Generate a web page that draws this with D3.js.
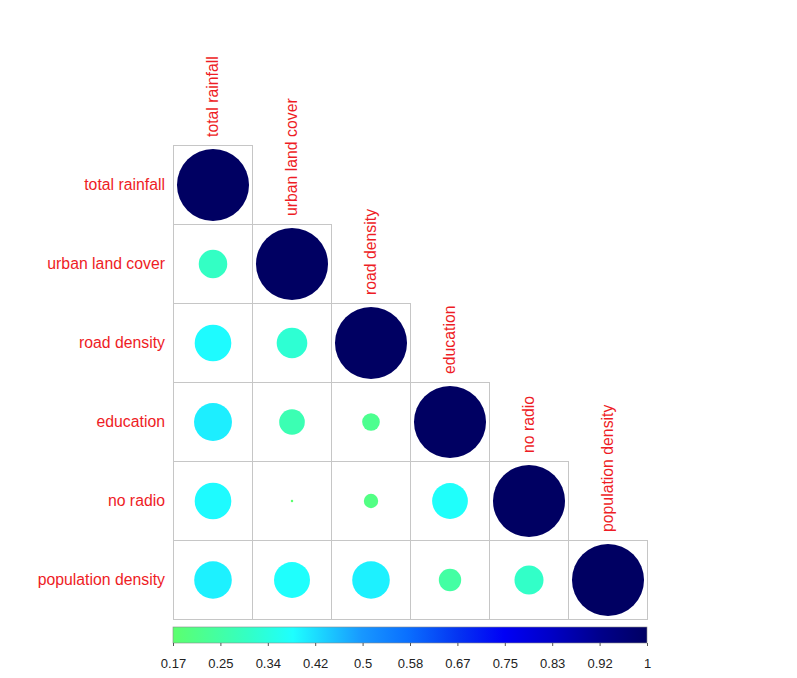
<!DOCTYPE html>
<html>
<head>
<meta charset="utf-8">
<script src="https://cdn.jsdelivr.net/npm/d3@7"></script>
<style>
  body { margin: 0; background: #fff; }
  text { font-family: "Liberation Sans", Arial, Helvetica, sans-serif; }
</style>
</head>
<body>
<svg id="chart"></svg>
<script>
// variable names, in matrix order
var vars = ["total rainfall", "urban land cover", "road density", "education", "no radio", "population density"];

// lower triangle of the matrix, row by row (incl. diagonal)
var corr = [
  [1],
  [0.30, 1],
  [0.385, 0.32, 1],
  [0.40, 0.275, 0.22, 1],
  [0.385, 0.171, 0.203, 0.375, 1],
  [0.396, 0.377, 0.396, 0.25, 0.305, 1]
];

var tickLabels = ["0.17", "0.25", "0.34", "0.42", "0.5", "0.58", "0.67", "0.75", "0.83", "0.92", "1"];

// colour ramp of the legend
var rampStops = [0.17, 0.30, 0.38, 0.50, 0.58, 0.67, 0.75, 0.83, 0.92, 1];
var rampColors = ["#5cff6e", "#33ffc4", "#1effff", "#1898ff", "#0a70ff", "#0433f2", "#0000f6", "#0000c8", "#00008a", "#000062"];

var width = 797, height = 678;
var cell = 79;
var marginLeft = 173, marginTop = 145;

var svg = d3.select("#chart")
    .attr("width", width)
    .attr("height", height);

svg.append("rect")
    .attr("width", width)
    .attr("height", height)
    .attr("fill", "#fff");

var x = d3.scaleBand()
    .domain(vars)
    .range([marginLeft, marginLeft + cell * vars.length]);

var y = d3.scaleBand()
    .domain(vars)
    .range([marginTop, marginTop + cell * vars.length]);

var color = d3.scaleLinear()
    .domain(rampStops)
    .range(rampColors)
    .interpolate(d3.interpolateRgb);

var vmin = +tickLabels[0];

var radius = d3.scaleRadial()
    .domain([vmin, 1])
    .range([0, cell * 0.456]);

var cells = [];
corr.forEach(function(row, i) {
  row.forEach(function(v, j) {
    cells.push({ row: vars[i], col: vars[j], value: v });
  });
});

var g = svg.append("g");

g.selectAll("rect.cell")
  .data(cells)
  .enter().append("rect")
    .attr("class", "cell")
    .attr("x", function(d) { return x(d.col) + 0.5; })
    .attr("y", function(d) { return y(d.row) + 0.5; })
    .attr("width", cell)
    .attr("height", cell)
    .attr("fill", "none")
    .attr("stroke", "#c6c6c6")
    .attr("stroke-width", 1);

g.selectAll("circle")
  .data(cells)
  .enter().append("circle")
    .attr("cx", function(d) { return x(d.col) + cell / 2 + 0.5; })
    .attr("cy", function(d) { return y(d.row) + cell / 2 + 0.5; })
    .attr("r", function(d) { return radius(d.value); })
    .attr("fill", function(d) { return color(d.value); });

// row labels
svg.selectAll("text.rowlab")
  .data(vars)
  .enter().append("text")
    .attr("class", "rowlab")
    .attr("x", marginLeft - 8)
    .attr("y", function(d) { return y(d) + cell / 2; })
    .attr("text-anchor", "end")
    .attr("dy", "0.35em")
    .attr("font-size", 15.8)
    .attr("fill", "#ee1c25")
    .text(function(d) { return d; });

// column labels, sitting on top of the diagonal cell
svg.selectAll("text.collab")
  .data(vars)
  .enter().append("text")
    .attr("class", "collab")
    .attr("transform", function(d) {
      return "translate(" + (x(d) + cell / 2) + "," + (y(d) - 8) + ") rotate(-90)";
    })
    .attr("text-anchor", "start")
    .attr("dy", "0.35em")
    .attr("font-size", 15.8)
    .attr("fill", "#ee1c25")
    .text(function(d) { return d; });

// colour legend
var barTop = 627, barH = 16;
var lx = d3.scaleLinear()
    .domain([vmin, 1])
    .range([marginLeft, marginLeft + cell * vars.length]);

var grad = svg.append("defs").append("linearGradient")
    .attr("id", "ramp")
    .attr("x1", "0%").attr("x2", "100%")
    .attr("y1", "0%").attr("y2", "0%");

grad.selectAll("stop")
  .data(rampStops)
  .enter().append("stop")
    .attr("offset", function(d) { return ((d - vmin) / (1 - vmin) * 100) + "%"; })
    .attr("stop-color", function(d) { return color(d); });

svg.append("rect")
    .attr("x", lx(vmin))
    .attr("y", barTop)
    .attr("width", lx(1) - lx(vmin))
    .attr("height", barH)
    .attr("fill", "url(#ramp)")
    .attr("stroke", "#8a8a8a")
    .attr("stroke-width", 0.6);

// ticks are evenly spaced, labels are rounded values
var tickVals = tickLabels.map(function(t, i) {
  return vmin + i * (1 - vmin) / (tickLabels.length - 1);
});

var axis = d3.axisBottom(lx)
    .tickValues(tickVals)
    .tickFormat(function(d, i) { return tickLabels[i]; })
    .tickSize(3)
    .tickPadding(13);

var ax = svg.append("g")
    .attr("transform", "translate(0," + (barTop + barH) + ")")
    .call(axis);

ax.select(".domain").remove();
ax.selectAll(".tick line").attr("stroke", "#555");
ax.selectAll(".tick text")
    .attr("font-size", 13)
    .attr("font-family", "Liberation Sans, Arial, sans-serif")
    .attr("fill", "#222");
</script>
</body>
</html>
